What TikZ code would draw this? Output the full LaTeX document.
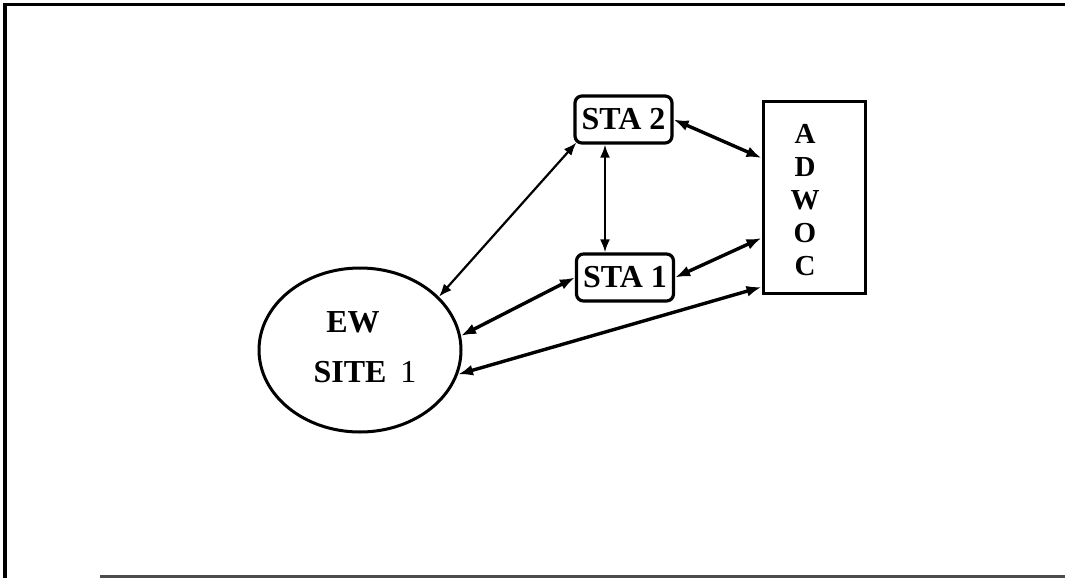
\documentclass[tikz,border=0pt]{standalone}
\usepackage{fontspec}
\setmainfont{Liberation Serif}
\usetikzlibrary{arrows.meta,shapes.geometric,calc}
\begin{document}
\begin{tikzpicture}[x=1pt,y=-1pt,
  stabox/.style={draw,line width=3.2pt,rounded corners=7pt,minimum width=97pt,minimum height=47pt,inner sep=0pt,font=\fontsize{32}{32}\selectfont\bfseries},
  ellnode/.style={draw,ellipse,line width=3pt,minimum width=202pt,minimum height=164pt,inner sep=0pt},
  bigbox/.style={draw,line width=3pt,minimum width=102pt,minimum height=192pt,inner sep=0pt},
  lbl/.style={inner sep=0pt,font=\fontsize{32}{32}\selectfont\bfseries},
  link/.style={line width=3.4pt,{Latex[length=15pt,width=11pt]}-{Latex[length=15pt,width=11pt]}},
  thinlink/.style={line width=2.2pt,{Latex[length=13pt,width=10pt]}-{Latex[length=13pt,width=10pt]}},
  frame/.style={line width=3.5pt}
]
\useasboundingbox (0,0) rectangle (1065,578);
% frame
\coordinate (ftl) at (5,4.5);
\coordinate (ftr) at (1065,4.5);
\coordinate (fbl) at (5,578);
\coordinate (fbs) at (100,576);
\coordinate (fbe) at (1065,576);
\draw[frame] (ftr) -- (ftl) -- (fbl);
\draw[line width=3pt,black!70] (fbs) -- (fbe);
% nodes
\node[ellnode] (ew) at (360,350) {};
\node[lbl] (ewt) at (353,322) {EW};
\node[lbl] (sitet) at (365,372) {SITE\hspace{14pt}\mdseries 1};
\node[stabox] (sta2) at (623.5,119.5) {STA 2};
\node[stabox] (sta1) at (625,277.5) {STA 1};
\node[bigbox] (adwoc) at (814,197) {};
\node[align=center,inner sep=0pt,font=\fontsize{29}{33}\selectfont\bfseries] (adwoct) at (805,200) {A\\D\\W\\O\\C};
% connectors
\coordinate (vx) at (605,0);
\draw[thinlink] (ew.34) -- ($(sta2.south west)+(3,-2)$);
\draw[thinlink] (sta2.south -| vx) -- (sta1.north -| vx);
\draw[link] (sta2.east) -- ([yshift=39pt]adwoc.west);
\draw[link] (sta1.west) -- (ew.8);
\draw[link] (sta1.east) -- ([yshift=-41pt]adwoc.west);
\draw[link] (ew.-14) -- ([yshift=-90pt]adwoc.west);
\end{tikzpicture}
\end{document}
